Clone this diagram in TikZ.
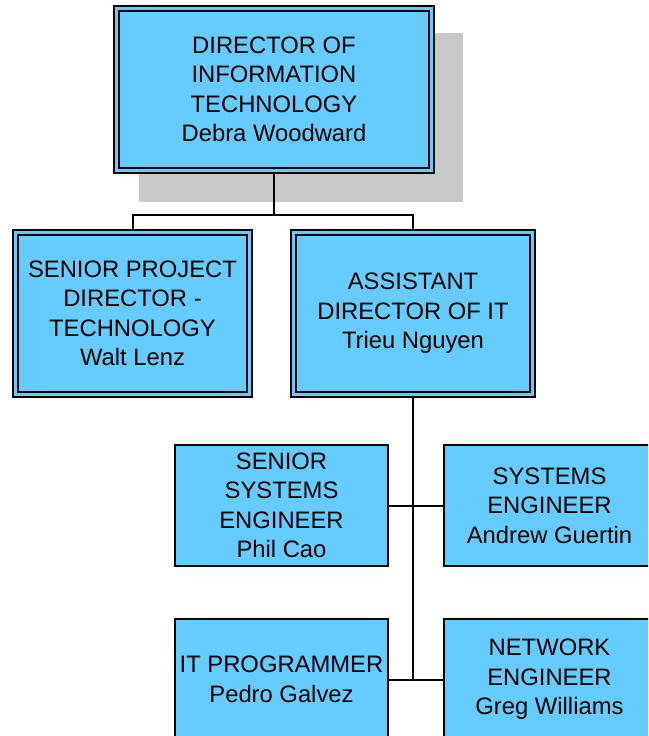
\documentclass[tikz,border=0pt]{standalone}
\usepackage{fontspec}
\setmainfont{Liberation Sans}
\definecolor{boxblue}{HTML}{66CCFF}
\definecolor{shadowgray}{HTML}{C8C8C8}
\pgfdeclarelayer{background}
\pgfsetlayers{background,main}
\tikzset{
  dbox/.style={draw=black, line width=1.8pt, double=boxblue, double distance=3pt,
    fill=boxblue, outer sep=3.3pt, inner sep=0pt, align=center,
    minimum height=162.4pt, font=\fontsize{23.8}{29.5}\selectfont},
  sbox/.style={draw=black, line width=2pt, fill=boxblue, outer sep=1pt,
    inner sep=0pt, align=center, minimum width=213pt, minimum height=121pt,
    font=\fontsize{23.8}{29.5}\selectfont},
  conn/.style={draw=black, line width=2pt}
}
\begin{document}
\begin{tikzpicture}[x=1pt, y=-1pt]
\useasboundingbox (0,0) rectangle (648,736);
\clip (0,0) rectangle (648,736);
% top level
\node[dbox, minimum width=315.4pt] (top) at (274,89.5)
  {DIRECTOR OF\\INFORMATION\\TECHNOLOGY\\Debra Woodward};
\begin{pgfonlayer}{background}
\fill[shadowgray] ([xshift=26pt,yshift=-28pt]top.south west) rectangle ([xshift=28pt,yshift=-28pt]top.north east);
\end{pgfonlayer}
% second level
\node[dbox, minimum width=234.4pt] (spd) at (132.5,313.5)
  {SENIOR PROJECT\\DIRECTOR -\\TECHNOLOGY\\Walt Lenz};
\node[dbox, minimum width=239.4pt] (asst) at (413,313.5)
  {ASSISTANT\\DIRECTOR OF IT\\Trieu Nguyen};
% third level
\node[sbox] (ssys) at (281.5,505.5) {SENIOR\\SYSTEMS\\ENGINEER\\Phil Cao};
\node[sbox, minimum width=211pt] (sys) at (549.5,505.5) {SYSTEMS\\ENGINEER\\Andrew Guertin};
\node[sbox] (prog) at (281.5,679.5) {IT PROGRAMMER\\Pedro Galvez};
\node[sbox, minimum width=211pt] (net) at (549.5,679.5) {NETWORK\\ENGINEER\\Greg Williams};
% connectors
\coordinate (j1) at (274,215);
\coordinate (bend) at (asst.south |- prog.east);
\draw[conn] (top.south) -- (j1);
\draw[conn] (spd.north) |- (j1) -| (asst.north);
\draw[conn] (asst.south) -- (bend);
\draw[conn] (ssys.east) -- (sys.west);
\draw[conn] (prog.east) -- (net.west);
\end{tikzpicture}
\end{document}
